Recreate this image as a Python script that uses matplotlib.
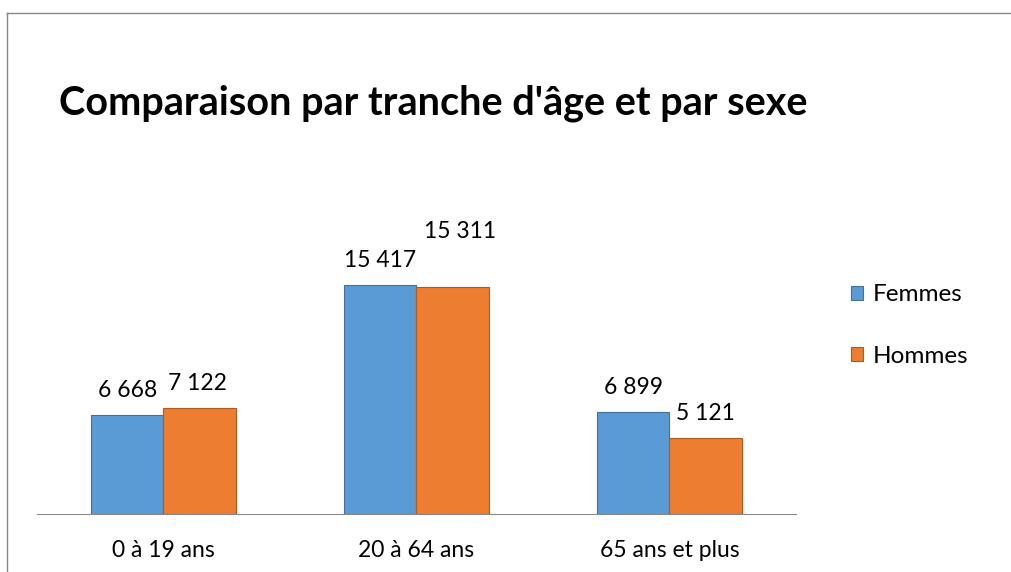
import matplotlib
matplotlib.use("Agg")
import matplotlib.pyplot as plt
from matplotlib.lines import Line2D
import numpy as np

plt.rcParams['font.family'] = ['Lato', 'DejaVu Sans']

# data
categories = ["0 à 19 ans", "20 à 64 ans", "65 ans et plus"]
femmes = [6668, 15417, 6899]
hommes = [7122, 15311, 5121]
series_names = ["Femmes", "Hommes"]

fig = plt.figure(figsize=(10.12, 5.72), dpi=100)
ax = fig.add_axes([37 / 1012, 1 - 514 / 572, 759 / 1012, 267 / 572])

x = np.arange(len(categories))
w = 0.2866
b1 = ax.bar(x - w / 2, femmes, w, color="#5B9BD5", edgecolor="#41719C", linewidth=0.8, label=series_names[0])
b2 = ax.bar(x + w / 2, hommes, w, color="#ED7D31", edgecolor="#AE5A21", linewidth=0.8, label=series_names[1])

ax.set_xlim(-0.5, len(categories) - 0.5)
ax.set_ylim(0, 18000)

def fmt(v):
    return f"{v:,}".replace(",", " ")

fs = 16.5
# label offsets (points) - 15 311 is pushed up like in the original
offs_f = [(0, 10), (0, 10), (0, 10)]
offs_h = [(-2, 10), (5, 32), (0, 10)]
for rect, v, o in zip(b1, femmes, offs_f):
    ax.annotate(fmt(v), (rect.get_x() + rect.get_width() / 2, v), xytext=o,
                textcoords="offset points", ha="center", va="bottom", fontsize=fs)
for rect, v, o in zip(b2, hommes, offs_h):
    ax.annotate(fmt(v), (rect.get_x() + rect.get_width() / 2, v), xytext=o,
                textcoords="offset points", ha="center", va="bottom", fontsize=fs)

ax.set_xticks(x)
ax.set_xticklabels(categories, fontsize=fs)
ax.tick_params(axis="x", length=0, pad=19)
ax.set_yticks([])
for s in ["top", "right", "left"]:
    ax.spines[s].set_visible(False)
ax.spines["bottom"].set_color("#898989")

ax.legend(loc="center left", bbox_to_anchor=(851 / 1012, 1 - 325.5 / 572), bbox_transform=fig.transFigure,
          frameon=False, fontsize=17.5, handlelength=0.5, handleheight=0.5,
          handletextpad=0.4, labelspacing=1.65, borderpad=0, borderaxespad=0)

fig.text(59 / 1012, 1 - 103 / 572, "Comparaison par tranche d'âge et par sexe",
         fontsize=28.5, fontweight="bold", va="center", ha="left")

# outer frame (cut off at right and bottom)
fl = 7.5 / 1012
ft = 1 - 12.5 / 572
fig.add_artist(Line2D([fl, 1.0], [ft, ft], transform=fig.transFigure, color="#868686", lw=1))
fig.add_artist(Line2D([fl, fl], [0, ft], transform=fig.transFigure, color="#868686", lw=1))

fig.savefig("out.png", dpi=100)
